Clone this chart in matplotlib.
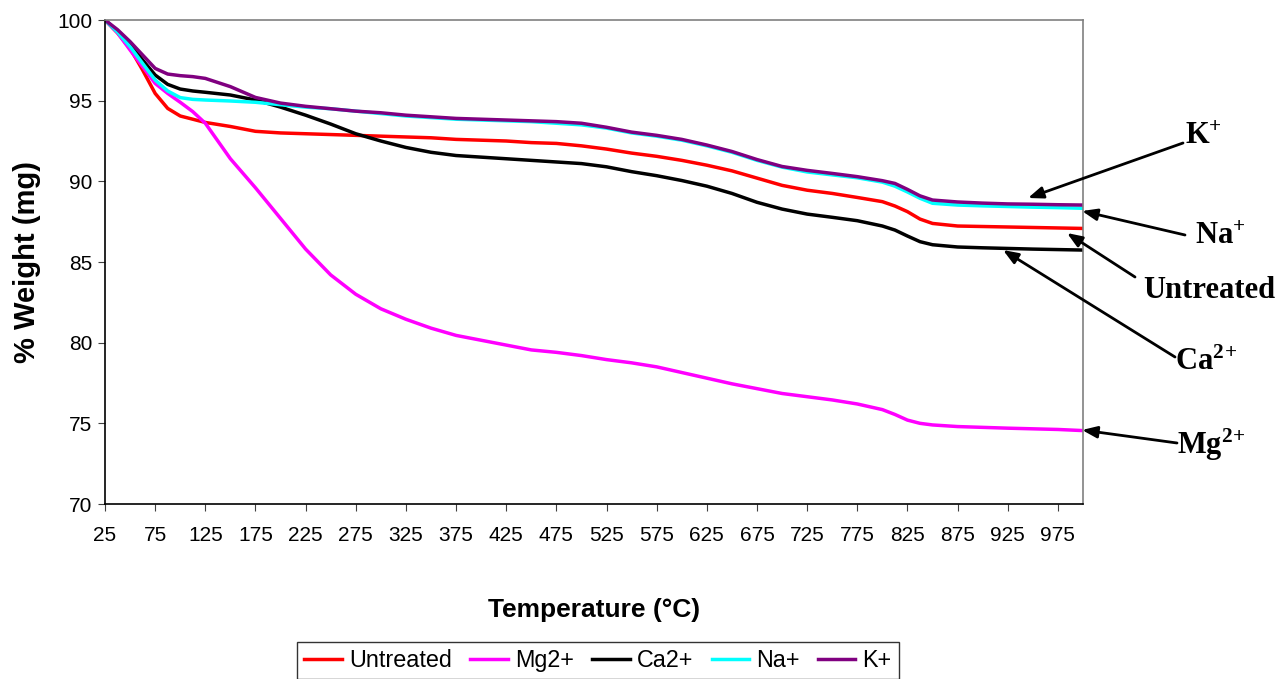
import matplotlib
matplotlib.use("Agg")
import matplotlib.pyplot as plt

plt.rcParams['font.family'] = ['Liberation Sans', 'DejaVu Sans']
plt.rcParams['mathtext.fontset'] = 'custom'
plt.rcParams['mathtext.rm'] = 'Liberation Serif:bold'
plt.rcParams['mathtext.it'] = 'Liberation Serif:bold'
plt.rcParams['mathtext.bf'] = 'Liberation Serif:bold'

temps = [25, 37.5, 50, 62.5, 75, 87.5, 100, 112.5, 125, 150, 175, 200, 225, 250, 275,
         300, 325, 350, 375, 400, 425, 450, 475, 500, 525, 550, 575, 600, 625, 650,
         675, 700, 725, 750, 775, 800, 812.5, 825, 837.5, 850, 875, 900, 925, 950,
         975, 1000]

untreated = [100, 99.2, 98.24, 96.9, 95.45, 94.52, 94.05, 93.85, 93.65, 93.4, 93.1,
             93.0, 92.95, 92.9, 92.85, 92.8, 92.75, 92.7, 92.6, 92.55, 92.5, 92.4,
             92.35, 92.2, 92.0, 91.75, 91.55, 91.3, 91.0, 90.65, 90.2, 89.75, 89.45,
             89.25, 89.0, 88.74, 88.47, 88.12, 87.66, 87.39, 87.23, 87.2, 87.17,
             87.14, 87.11, 87.08]
mg2 = [100, 99.2, 98.14, 97.11, 96.07, 95.45, 94.9, 94.32, 93.6, 91.4, 89.6, 87.7,
       85.8, 84.2, 83.0, 82.1, 81.45, 80.9, 80.45, 80.15, 79.85, 79.55, 79.4, 79.2,
       78.95, 78.75, 78.5, 78.15, 77.8, 77.45, 77.15, 76.85, 76.65, 76.45, 76.2,
       75.85, 75.55, 75.2, 75.0, 74.9, 74.8, 74.75, 74.7, 74.66, 74.62, 74.55]
ca2 = [100, 99.3, 98.49, 97.52, 96.59, 96.01, 95.72, 95.6, 95.52, 95.35, 95.04, 94.6,
       94.1, 93.55, 92.95, 92.5, 92.1, 91.8, 91.6, 91.5, 91.4, 91.3, 91.2, 91.1,
       90.9, 90.6, 90.35, 90.05, 89.7, 89.25, 88.7, 88.28, 87.97, 87.77, 87.56,
       87.23, 86.98, 86.61, 86.26, 86.07, 85.93, 85.88, 85.84, 85.8, 85.77, 85.74]
na = [100, 99.25, 98.35, 97.31, 96.28, 95.6, 95.19, 95.08, 95.04, 94.98, 94.9, 94.75,
      94.6, 94.5, 94.35, 94.2, 94.05, 93.95, 93.85, 93.8, 93.75, 93.7, 93.6, 93.5,
      93.3, 93.0, 92.8, 92.55, 92.2, 91.8, 91.3, 90.88, 90.58, 90.4, 90.22, 89.95,
      89.7, 89.34, 88.95, 88.64, 88.53, 88.48, 88.44, 88.4, 88.37, 88.33]
k = [100, 99.4, 98.66, 97.83, 97.0, 96.65, 96.55, 96.49, 96.38, 95.87, 95.2, 94.85,
     94.65, 94.5, 94.35, 94.25, 94.1, 94.0, 93.9, 93.85, 93.8, 93.75, 93.7, 93.6,
     93.35, 93.05, 92.85, 92.6, 92.25, 91.85, 91.35, 90.92, 90.68, 90.49, 90.29,
     90.04, 89.87, 89.5, 89.1, 88.84, 88.72, 88.65, 88.6, 88.58, 88.55, 88.53]

series = [("Untreated", untreated, "#FF0000"),
          ("Mg2+", mg2, "#FF00FF"),
          ("Ca2+", ca2, "#000000"),
          ("Na+", na, "#00FFFF"),
          ("K+", k, "#800080")]

xticks = list(range(25, 1000, 50))
yticks = [70, 75, 80, 85, 90, 95, 100]

fig = plt.figure(figsize=(12.8, 6.79), dpi=100)
ax = fig.add_axes([105/1280, 1 - 504/679, (1083 - 105)/1280, (504 - 20)/679])

for name, vals, col in series:
    ax.plot(temps, vals, color=col, lw=2.5, label=name, solid_joinstyle='round')

ax.set_xlim(25, 1000)
ax.set_ylim(70, 100)
ax.set_xticks(xticks)
ax.set_yticks(yticks)
ax.tick_params(axis='both', labelsize=15, direction='out', length=5, color='#404040')
ax.tick_params(axis='x', pad=11)
ax.tick_params(axis='y', pad=4)
for s in ['top', 'right']:
    ax.spines[s].set_color('#808080')
    ax.spines[s].set_linewidth(1.2)
for s in ['left', 'bottom']:
    ax.spines[s].set_color('#000000')
    ax.spines[s].set_linewidth(1.2)

ax.set_xlabel("Temperature (°C)", fontsize=19, fontweight='bold', labelpad=38)
ax.set_ylabel("% Weight (mg)", fontsize=21, fontweight='bold', labelpad=12)

leg = fig.legend(loc='upper center', bbox_to_anchor=(598/1280, 1 - 642/679), ncol=5,
                 fontsize=16.8, frameon=True, fancybox=False, edgecolor='black',
                 handlelength=1.6, handletextpad=0.3, columnspacing=0.8,
                 borderpad=0.3, borderaxespad=0)
leg.get_frame().set_linewidth(1.0)

annots = [(r"K$^{+}$", (1203, 679 - 137), (1183, 679 - 143), (1028, 679 - 198)),
          (r"Na$^{+}$", (1220, 679 - 236), (1185, 679 - 235), (1082, 679 - 211)),
          (r"Untreated", (1209, 679 - 290), (1135, 679 - 277), (1067, 679 - 233)),
          (r"Ca$^{2}$$^{+}$", (1206, 679 - 362), (1175, 679 - 357), (1003, 679 - 250)),
          (r"Mg$^{2}$$^{+}$", (1211, 679 - 445), (1177, 679 - 443), (1082, 679 - 430))]
for label, tpos, tail, tip in annots:
    fig.text(tpos[0] / 1280, tpos[1] / 679, label, fontsize=22,
             family='Liberation Serif', fontweight='bold', ha='center', va='center')
    ax.annotate("", xy=tip, xycoords='figure pixels', xytext=tail,
                textcoords='figure pixels', annotation_clip=False,
                arrowprops=dict(arrowstyle='-|>,head_length=0.9,head_width=0.35',
                                color='black', lw=2, shrinkA=0, shrinkB=0))

fig.savefig("out.png", dpi=100)
